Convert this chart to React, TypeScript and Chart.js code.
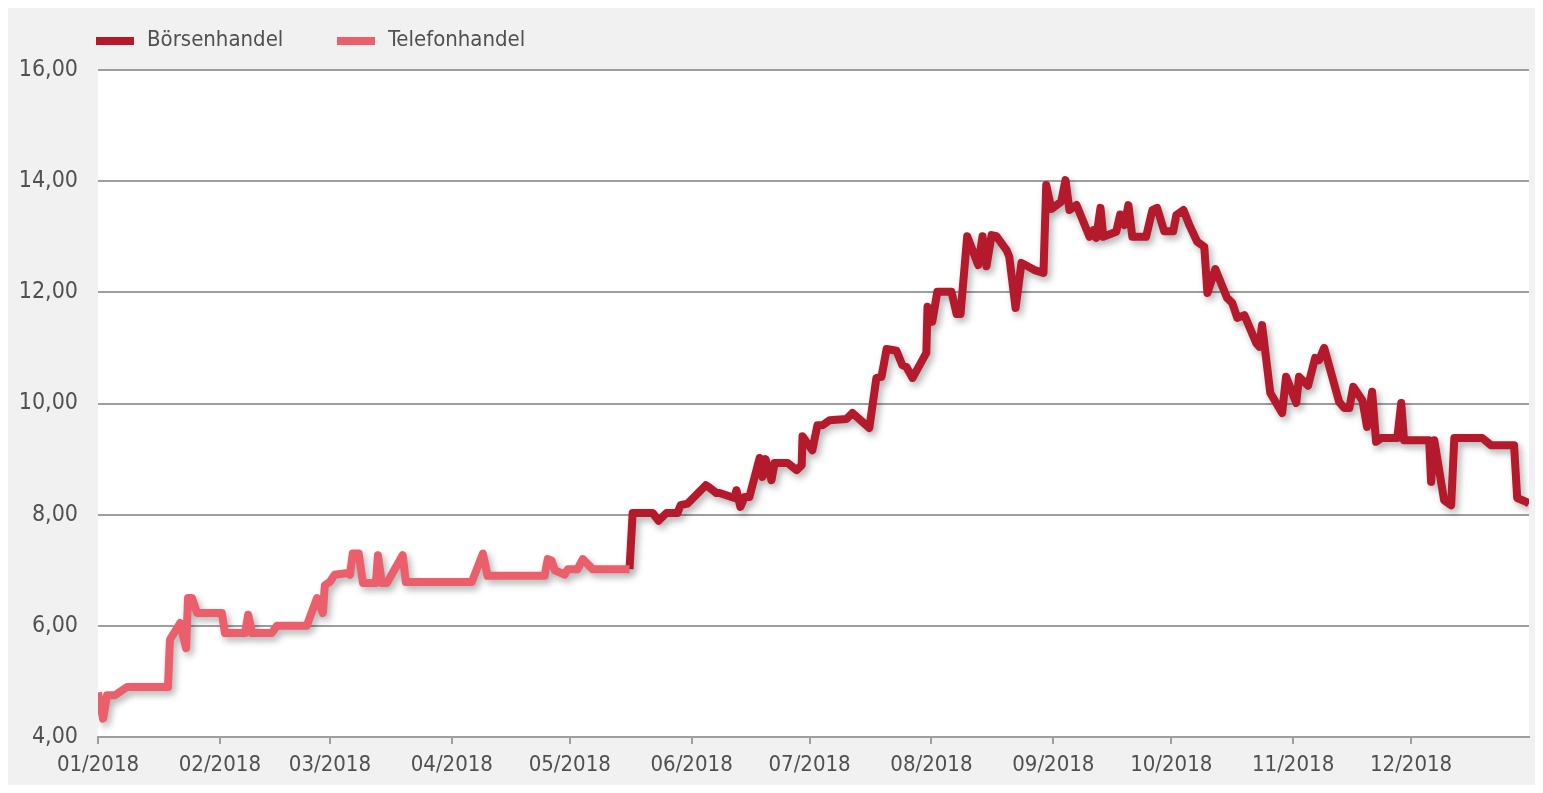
import React, { useEffect, useRef } from "react";
import { Chart, registerables } from "chart.js";

Chart.register(...registerables);

// ---- Data ----
const monthLabels = ["01/2018", "02/2018", "03/2018", "04/2018", "05/2018", "06/2018", "07/2018", "08/2018", "09/2018", "10/2018", "11/2018", "12/2018"];
const monthStartDays = [0, 31, 59, 90, 120, 151, 181, 212, 243, 273, 304, 334];
const yMin = 4;
const yMax = 16;
const yStep = 2;

const seriesNames = ["Börsenhandel", "Telefonhandel"];
const seriesColors = ["#b41a2b", "#eb5f6c"];

// day of year (0 = 1 Jan 2018)
const telefonDays = [0, 1.3, 2.3, 4.3, 7.4, 17.8, 18.3, 20.9, 22.4, 22.9, 23.9, 25.2, 31.5, 32.3, 37.4, 38.2, 39.2, 44.2, 45.5, 53.1, 55.7, 57.2, 57.7, 59.0, 60.2, 63.6, 64.1, 64.8, 66.3, 67.4, 70.7, 71.2, 72.2, 73.5, 77.5, 78.3, 95.1, 97.9, 99.1, 113.6, 114.4, 115.4, 116.2, 118.7, 119.5, 122.0, 123.3, 125.8, 135.2];
const telefonValues = [4.8, 4.33, 4.75, 4.75, 4.9, 4.9, 5.75, 6.05, 5.6, 6.5, 6.5, 6.23, 6.23, 5.87, 5.87, 6.2, 5.87, 5.87, 6.0, 6.0, 6.5, 6.23, 6.73, 6.79, 6.92, 6.95, 6.92, 7.3, 7.3, 6.77, 6.77, 7.27, 6.77, 6.77, 7.27, 6.79, 6.79, 7.3, 6.9, 6.9, 7.2, 7.17, 7.0, 6.92, 7.02, 7.02, 7.2, 7.02, 7.02];

const boersenDays = [135.2, 136.0, 141.1, 142.6, 144.6, 147.4, 148.2, 150.0, 154.6, 155.3, 157.3, 158.1, 161.9, 162.4, 163.4, 164.5, 165.7, 168.3, 169.0, 169.8, 171.3, 172.1, 175.4, 177.7, 179.0, 179.2, 181.7, 183.0, 184.3, 186.1, 190.4, 191.9, 196.2, 198.0, 199.3, 200.6, 203.1, 204.6, 205.6, 207.2, 210.7, 211.0, 212.2, 213.5, 217.1, 218.4, 219.4, 221.1, 223.9, 225.0, 226.0, 227.3, 228.5, 231.1, 231.8, 233.4, 234.9, 238.2, 240.5, 241.2, 242.5, 245.0, 246.1, 247.1, 248.9, 252.2, 253.2, 253.9, 255.0, 255.7, 259.0, 260.0, 261.1, 262.1, 263.1, 266.6, 268.2, 269.4, 271.2, 273.5, 274.3, 276.1, 277.6, 279.6, 281.4, 282.2, 284.2, 287.2, 288.5, 289.8, 291.6, 294.6, 295.4, 296.1, 298.2, 301.2, 302.2, 304.8, 305.5, 307.8, 309.6, 310.6, 311.9, 315.7, 317.0, 318.3, 319.3, 321.6, 322.8, 324.1, 325.1, 326.4, 330.5, 331.5, 332.2, 338.6, 339.1, 339.9, 342.4, 344.2, 345.0, 352.1, 354.3, 360.2, 361.0, 363.3, 364];
const boersenValues = [7.02, 8.03, 8.03, 7.89, 8.03, 8.03, 8.17, 8.2, 8.53, 8.5, 8.39, 8.39, 8.3, 8.44, 8.14, 8.32, 8.32, 9.02, 8.68, 9.0, 8.62, 8.93, 8.93, 8.8, 8.89, 9.41, 9.16, 9.61, 9.61, 9.7, 9.72, 9.83, 9.56, 10.46, 10.48, 10.98, 10.95, 10.69, 10.66, 10.46, 10.91, 11.74, 11.47, 12.01, 12.01, 11.61, 11.61, 13.01, 12.49, 13.01, 12.47, 13.03, 13.01, 12.76, 12.64, 11.72, 12.53, 12.4, 12.35, 13.93, 13.5, 13.63, 14.02, 13.48, 13.57, 13.0, 13.12, 12.98, 13.52, 13.0, 13.09, 13.4, 13.21, 13.57, 13.0, 13.0, 13.48, 13.52, 13.1, 13.1, 13.39, 13.48, 13.21, 12.91, 12.82, 11.99, 12.42, 11.9, 11.81, 11.54, 11.59, 11.09, 11.02, 11.41, 10.19, 9.83, 10.48, 10.01, 10.48, 10.32, 10.82, 10.78, 11.0, 10.03, 9.92, 9.92, 10.3, 10.06, 9.58, 10.21, 9.31, 9.38, 9.38, 10.01, 9.34, 9.34, 8.59, 9.34, 8.26, 8.17, 9.38, 9.38, 9.25, 9.25, 8.3, 8.23, 8.2];

const FONT = '"Liberation Sans Narrow", "DejaVu Sans Condensed", "Arial Narrow", sans-serif';
const TEXT_COLOR = "#505050";
const GRID_COLOR = "#9e9e9e";

const toPoints = (xs: number[], ys: number[]) => xs.map((x, i) => ({ x, y: ys[i] }));

const backgroundPlugin = {
  id: "bgPlugin",
  beforeDraw(chart: any) {
    const { ctx, chartArea, width, height } = chart;
    ctx.save();
    ctx.fillStyle = "#f1f1f1";
    ctx.fillRect(0, 0, width, height);
    ctx.fillStyle = "#ffffff";
    ctx.fillRect(chartArea.left, chartArea.top, chartArea.right - chartArea.left, chartArea.bottom - chartArea.top);
    ctx.restore();
  },
};

const shadowPlugin = {
  id: "shadowPlugin",
  beforeDatasetDraw(chart: any) {
    const ctx = chart.ctx;
    ctx.save();
    ctx.shadowColor = "rgba(0,0,0,0.3)";
    ctx.shadowBlur = 7;
    ctx.shadowOffsetX = 3;
    ctx.shadowOffsetY = 4;
  },
  afterDatasetDraw(chart: any) {
    chart.ctx.restore();
  },
};

const legendPlugin = {
  id: "customLegend",
  afterDraw(chart: any) {
    const ctx = chart.ctx;
    const xs = [88, 329];
    ctx.save();
    ctx.font = `22px ${FONT}`;
    ctx.textBaseline = "middle";
    ctx.textAlign = "left";
    seriesNames.forEach((name, i) => {
      ctx.fillStyle = seriesColors[i];
      ctx.fillRect(xs[i], 29, 38, 8);
      ctx.fillStyle = TEXT_COLOR;
      ctx.fillText(name, xs[i] + 51, 32);
    });
    ctx.restore();
  },
};

export default function App() {
  const canvasRef = useRef<HTMLCanvasElement | null>(null);

  useEffect(() => {
    if (!canvasRef.current) return;
    const common = {
      borderWidth: 8,
      pointRadius: 0,
      tension: 0,
      borderJoinStyle: "round",
      borderCapStyle: "butt",
      clip: { left: 0, right: 0, top: 10, bottom: 10 },
    };
    const chart = new Chart(canvasRef.current, {
      type: "line",
      data: {
        datasets: [
          {
            ...common,
            label: seriesNames[1],
            data: toPoints(telefonDays, telefonValues),
            borderColor: seriesColors[1],
            backgroundColor: seriesColors[1],
          } as any,
          {
            ...common,
            label: seriesNames[0],
            data: toPoints(boersenDays, boersenValues),
            borderColor: seriesColors[0],
            backgroundColor: seriesColors[0],
          } as any,
        ],
      },
      options: {
        animation: false,
        responsive: true,
        maintainAspectRatio: false,
        layout: { padding: { top: 62, right: 6, left: 0, bottom: 0 } },
        plugins: {
          legend: { display: false },
          tooltip: { enabled: false },
        },
        scales: {
          x: {
            type: "linear",
            min: 0,
            max: 364,
            afterBuildTicks(scale: any) {
              scale.ticks = monthStartDays.map((v) => ({ value: v }));
            },
            afterFit(scale: any) {
              scale.height = 48;
            },
            ticks: {
              autoSkip: false,
              maxRotation: 0,
              padding: 8,
              color: TEXT_COLOR,
              font: { family: FONT, size: 22 },
              callback: (_v: any, i: number) => monthLabels[i],
            },
            grid: {
              drawOnChartArea: false,
              drawTicks: true,
              tickLength: 7,
              color: GRID_COLOR,
              lineWidth: 2,
            },
            border: { display: true, color: GRID_COLOR, width: 2 },
          },
          y: {
            min: yMin,
            max: yMax,
            afterFit(scale: any) {
              scale.width = 90;
            },
            ticks: {
              stepSize: yStep,
              padding: 20,
              color: TEXT_COLOR,
              font: { family: FONT, size: 23 },
              callback: (v: any) => Number(v).toFixed(2).replace(".", ","),
            },
            grid: {
              drawTicks: false,
              color: GRID_COLOR,
              lineWidth: 2,
            },
            border: { display: false },
          },
        },
      },
      plugins: [backgroundPlugin, shadowPlugin, legendPlugin],
    });
    return () => chart.destroy();
  }, []);

  return (
    <div style={{ position: "relative", width: 1527, height: 777 }}>
      <canvas ref={canvasRef} />
    </div>
  );
}
